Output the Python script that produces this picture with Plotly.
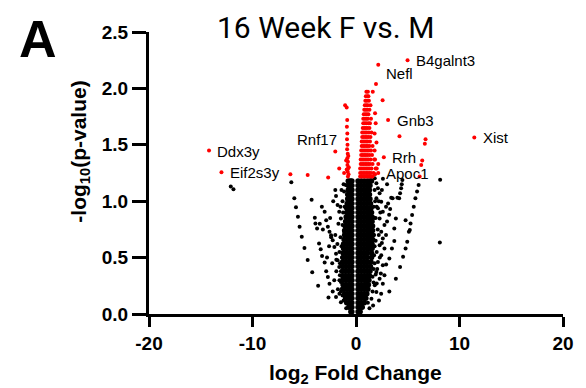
import plotly.graph_objects as go

# ---------------- data ----------------
# dense black core of non-significant genes, listed row by row (y level -> x values)
core_levels = [0.02, 0.06, 0.10, 0.14, 0.18, 0.22, 0.26, 0.30, 0.34, 0.38,
               0.42, 0.46, 0.50, 0.54, 0.58, 0.62, 0.66, 0.70, 0.74, 0.78,
               0.82, 0.86, 0.90, 0.94, 0.98, 1.02, 1.06, 1.10, 1.14, 1.18]
core_rows = [
    [-0.5, -0.4, 0.2, 0.4],
    [-0.7, -0.4, 0.2, 0.45, 0.6],
    [-0.9, -0.65, -0.4, 0.2, 0.5, 0.8],
    [-1.0, -0.7, -0.4, 0.2, 0.5, 0.8, 0.95],
    [-1.1, -0.8, -0.55, -0.4, 0.2, 0.5, 0.8, 1.05],
    [-1.2, -0.9, -0.6, -0.4, 0.2, 0.5, 0.8, 1.15],
    [-1.25, -0.95, -0.65, -0.4, 0.2, 0.5, 0.8, 1.0, 1.2],
    [-1.3, -1.0, -0.7, -0.4, 0.2, 0.5, 0.8, 1.05, 1.25],
    [-1.3, -1.0, -0.7, -0.4, 0.2, 0.5, 0.8, 1.05, 1.3],
    [-1.3, -1.0, -0.7, -0.4, 0.2, 0.5, 0.8, 1.1, 1.35],
    [-1.3, -1.0, -0.7, -0.4, 0.2, 0.5, 0.8, 1.1, 1.4],
    [-1.3, -1.0, -0.7, -0.4, 0.2, 0.5, 0.8, 1.1, 1.45],
    [-1.25, -0.95, -0.65, -0.4, 0.2, 0.5, 0.8, 1.1, 1.5],
    [-1.25, -0.95, -0.65, -0.4, 0.2, 0.5, 0.8, 1.1, 1.5],
    [-1.2, -0.9, -0.6, -0.4, 0.2, 0.5, 0.8, 1.1, 1.35, 1.55],
    [-1.2, -0.9, -0.6, -0.4, 0.2, 0.5, 0.8, 1.1, 1.35, 1.55],
    [-1.15, -0.85, -0.6, -0.4, 0.2, 0.5, 0.8, 1.1, 1.35, 1.6],
    [-1.1, -0.8, -0.55, -0.4, 0.2, 0.5, 0.8, 1.1, 1.35, 1.6],
    [-1.1, -0.8, -0.55, -0.4, 0.2, 0.5, 0.8, 1.1, 1.35, 1.6],
    [-1.05, -0.75, -0.4, 0.2, 0.5, 0.8, 1.1, 1.35, 1.6],
    [-1.0, -0.7, -0.4, 0.2, 0.5, 0.8, 1.1, 1.35, 1.55],
    [-0.95, -0.65, -0.4, 0.2, 0.5, 0.8, 1.1, 1.3, 1.55],
    [-0.9, -0.65, -0.4, 0.2, 0.5, 0.8, 1.1, 1.3, 1.5],
    [-0.9, -0.65, -0.4, 0.2, 0.5, 0.8, 1.1, 1.45],
    [-0.85, -0.6, -0.4, 0.2, 0.5, 0.8, 1.1, 1.4],
    [-0.8, -0.6, -0.4, 0.2, 0.5, 0.8, 1.1, 1.35],
    [-0.8, -0.6, -0.4, 0.2, 0.5, 0.8, 1.05, 1.3],
    [-0.75, -0.55, -0.4, 0.2, 0.5, 0.8, 1.05, 1.3],
    [-0.75, -0.55, -0.4, 0.2, 0.5, 0.8, 1.1, 1.35],
    [-0.75, -0.55, -0.4, 0.2, 0.5, 0.8, 1.1, 1.35, 1.5],
]

# scattered non-significant genes
black_x = [
    -6.25, -5.96, -5.80, -5.61, -5.45, -5.24, -4.98, -4.67, -4.23, -3.66, -2.66, -4.29,
    -12.1, -11.84,
    -3.98, -3.92, -3.76, -3.57, -3.41, -3.28, -3.03, -2.88, -2.72, -2.56, -2.25, -1.93, -1.46,
    -3.03, -2.88, -2.72, -2.56, -2.41, -2.25, -2.09, -1.93, -1.78, -1.62, -1.56, -1.46, -1.37, -1.30,
    -1.93, -1.78, -1.62, -1.46, -1.30, -1.15, -0.99, -1.15, -0.83,
    -2.2, -2.5, -2.0, -1.8, -2.3, -1.9, -2.1, -1.75, -1.6, -1.7, -2.6, -2.8, -3.2, -3.5, -3.3,
    -2.0, -1.5, -1.4, -1.2, -1.6, -1.9, -2.4, -1.5, -1.55, -1.45, -1.35, -1.4, -1.45, -1.25,
    -1.3, -1.1, -1.6, -1.2, -0.95,
    6.05, 5.90, 5.74, 5.58, 5.42, 5.27, 5.11, 4.95, 4.79, 4.55, 4.26, 3.85, 3.22, 2.22,
    8.13, 8.1,
    4.48, 4.42, 4.36, 4.26, 4.17, 3.85, 3.7, 3.54, 4.79, 3.70, 3.47, 3.22, 2.91, 2.75, 2.59, 2.43,
    1.81, 1.97, 2.12, 2.28, 1.97, 2.44, 2.12, 2.59, 2.28, 2.75, 2.44, 2.59, 2.28, 2.75, 2.44,
    2.12, 2.59, 1.97, 2.28, 1.81, 1.97, 1.49, 1.65, 1.8, 2.0, 1.9, 2.1, 1.9, 2.0, 1.8, 1.9,
    1.7, 1.6, 2.2, 2.35, 2.2, 2.3, 2.05, 1.75, 1.7, 1.75, 2.5, 2.6, 3.0, 3.1, 3.3, 3.2, 3.0,
    2.9, 2.5, 2.9, 1.75, 1.8, 1.7, 1.6, 1.85, 2.4, 2.0, 1.3, 1.15, 5.2, 3.4, 4.0,
]
black_y = [
    1.168, 1.026, 0.946, 0.862, 0.773, 0.684, 0.586, 0.479, 0.370, 0.251, 0.147, 1.013,
    1.13, 1.105,
    0.853, 0.803, 0.758, 0.625, 0.575, 0.515, 0.456, 0.378, 0.328, 0.269, 0.200, 0.150, 0.105,
    0.907, 0.832, 0.773, 0.729, 0.699, 0.654, 0.595, 0.535, 0.476, 0.417, 0.343, 0.283, 0.224, 0.165,
    1.046, 0.966, 0.907, 0.847, 0.788, 0.729, 1.144, 1.085, 1.026,
    1.0, 0.85, 0.7, 0.62, 0.45, 0.38, 0.3, 0.22, 0.55, 0.8, 0.6, 0.5, 0.75, 0.8, 0.95,
    1.1, 0.95, 1.1, 1.15, 0.3, 0.48, 0.68, 0.68, 0.45, 0.2, 0.5, 0.6, 0.38, 0.9,
    1.0, 0.95, 0.18, 0.12, 0.05,
    1.144, 1.085, 1.026, 0.951, 0.877, 0.803, 0.729, 0.640, 0.581, 0.507, 0.417, 0.313, 0.200, 0.120,
    1.19, 0.634,
    1.189, 1.150, 1.114, 1.070, 1.026, 0.847, 0.758, 1.026, 0.832, 0.648, 0.581, 0.493, 0.438, 0.343, 0.269, 0.180,
    1.204, 1.160, 1.115, 1.070, 1.026, 0.996, 0.937, 0.907, 0.847, 0.788, 0.729, 0.669, 0.610, 0.580, 0.521,
    0.462, 0.432, 0.372, 0.313, 0.254, 0.194, 0.135, 0.076, 1.1, 0.95, 0.85, 0.75, 0.65, 0.55, 0.45, 0.35,
    0.28, 0.2, 1.0, 0.9, 0.7, 0.5, 0.4, 0.52, 0.95, 0.7, 1.1, 1.2, 1.15, 0.98, 0.93, 0.88, 0.82,
    0.95, 0.63, 0.7, 0.85, 0.6, 0.4, 0.33, 1.0, 0.36, 0.27, 0.05, 0.1, 0.745, 1.03, 1.03,
]

# significant genes (red): right-hand column, listed row by row
redcol_levels = [1.97, 1.93, 1.89, 1.85, 1.81, 1.77, 1.73, 1.69, 1.65, 1.61,
                 1.57, 1.53, 1.49, 1.45, 1.41, 1.37, 1.33, 1.29, 1.25, 1.22]
redcol_rows = [
    [1.0, 1.15],
    [0.95, 1.1, 1.2],
    [0.9, 1.05, 1.25],
    [0.85, 1.0, 1.15, 1.4],
    [0.8, 0.95, 1.1, 1.3],
    [0.75, 0.9, 1.05, 1.2],
    [0.7, 0.85, 1.0, 1.15, 1.45],
    [0.7, 0.85, 1.0, 1.2, 1.35],
    [0.65, 0.8, 0.95, 1.1, 1.3],
    [0.6, 0.75, 0.9, 1.05, 1.25, 1.5],
    [0.6, 0.75, 0.9, 1.05, 1.2, 1.4],
    [0.55, 0.7, 0.85, 1.0, 1.15, 1.35],
    [0.55, 0.7, 0.85, 1.0, 1.15, 1.3, 1.6],
    [0.5, 0.65, 0.8, 0.95, 1.1, 1.25, 1.45],
    [0.5, 0.65, 0.8, 0.95, 1.1, 1.3, 1.55],
    [0.45, 0.6, 0.75, 0.9, 1.05, 1.2, 1.4, 1.75],
    [0.45, 0.6, 0.75, 0.9, 1.05, 1.2, 1.35, 1.6],
    [0.4, 0.55, 0.7, 0.85, 1.0, 1.15, 1.3, 1.5, 1.9],
    [0.4, 0.55, 0.7, 0.85, 1.0, 1.15, 1.3, 1.45, 1.7],
    [0.4, 0.55, 0.7, 0.85, 1.0, 1.15, 1.3, 1.45, 1.6],
]

# other significant genes (red)
red_x = [
    4.98, 2.15, 3.1, 11.43, -14.2, -13.0, 2.69, 2.15,
    1.93, 1.62, 2.57, 1.84, 1.9, 1.8, 4.2, 6.72, 6.65, 6.4, 6.3, 6.15,
    -6.34, -4.67, -2.69, -2.0, -1.62, -1.15,
    1.98, 1.8, 1.84, 2.15, 2.0, 1.84,
    -1.05, -0.9, -0.85, -0.88, -0.84, -0.87, -0.82, -0.86, -0.8, -0.84,
    -0.78, -0.83, -0.76, -0.8, -0.72, -0.78, -0.7, -0.74, -0.9, -0.95,
]
red_y = [
    2.25, 2.21, 1.72, 1.565, 1.45, 1.257, 1.39, 1.25,
    2.04, 1.97, 1.895, 1.78, 1.69, 1.60, 1.575, 1.55, 1.51, 1.36, 1.32, 1.22,
    1.24, 1.233, 1.21, 1.44, 1.29, 1.25,
    1.52, 1.45, 1.37, 1.33, 1.29, 1.24,
    1.85, 1.83, 1.72, 1.66, 1.60, 1.55, 1.50, 1.46, 1.42, 1.38,
    1.35, 1.32, 1.29, 1.26, 1.24, 1.22, 1.30, 1.40, 1.28, 1.36,
]

gene_names = ["B4galnt3", "Nefl", "Gnb3", "Xist", "Ddx3y", "Eif2s3y", "Rnf17", "Rrh", "Apoc1"]

x_ticks = [-20, -10, 0, 10, 20]
y_ticks = [0.0, 0.5, 1.0, 1.5, 2.0, 2.5]

# ---------------- layout helpers ----------------
W, H = 586, 388
ML, MR, MT, MB = 149, 13, 32, 74
PW, PH = W - ML - MR, H - MT - MB


def paper_x(px):
    return (px - ML) / PW


def paper_y(py):
    return (H - MB - py) / PH


# text anchor positions for gene labels (data coords, left edge / vertical middle)
label_pos = [(5.58, 2.25), (2.74, 2.13), (3.78, 1.714), (12.10, 1.563), (-13.59, 1.445),
             (-12.32, 1.253), (-5.93, 1.543), (3.31, 1.389), (2.74, 1.247)]

core_x, core_y = [], []
for yl, row in zip(core_levels, core_rows):
    for xv in row:
        core_x.append(xv)
        core_y.append(yl)

rc_x, rc_y = [], []
for yl, row in zip(redcol_levels, redcol_rows):
    for xv in row:
        rc_x.append(xv)
        rc_y.append(yl)

fig = go.Figure()
fig.add_trace(go.Scatter(x=core_x, y=core_y, mode="markers", cliponaxis=False,
                         marker=dict(color="black", size=5.5, line=dict(width=0)),
                         hoverinfo="skip", showlegend=False))
fig.add_trace(go.Scatter(x=black_x, y=black_y, mode="markers", cliponaxis=False,
                         marker=dict(color="black", size=4, line=dict(width=0)),
                         showlegend=False))
fig.add_trace(go.Scatter(x=rc_x, y=rc_y, mode="markers", cliponaxis=False,
                         marker=dict(color="#ff0000", size=4, line=dict(width=0)),
                         showlegend=False))
fig.add_trace(go.Scatter(x=red_x, y=red_y, mode="markers", cliponaxis=False,
                         marker=dict(color="#ff0000", size=4, line=dict(width=0)),
                         showlegend=False))

annotations = []
for name, (lx, ly) in zip(gene_names, label_pos):
    annotations.append(dict(x=lx, y=ly, xref="x", yref="y", text=name, showarrow=False,
                            xanchor="left", yanchor="middle",
                            font=dict(family="Arial, Liberation Sans", size=15, color="black")))

annotations += [
    dict(x=paper_x(330), y=paper_y(28), xref="paper", yref="paper", text="16 Week F vs. M",
         showarrow=False, xanchor="center", yanchor="middle",
         font=dict(family="Roboto", size=30, color="black")),
    dict(x=paper_x(35), y=paper_y(39), xref="paper", yref="paper", text="<b>A</b>",
         showarrow=False, xanchor="center", yanchor="middle",
         font=dict(family="Arial, Liberation Sans", size=52, color="black")),
    dict(x=paper_x(78), y=paper_y(152), xref="paper", yref="paper",
         text="<b>-log<sub>10</sub>(p-value)</b>", textangle=-90,
         showarrow=False, xanchor="center", yanchor="middle",
         font=dict(family="Arial, Liberation Sans", size=21, color="black")),
    dict(x=paper_x(360.5), y=paper_y(374), xref="paper", yref="paper",
         text="<b>log<sub>2</sub> Fold Change</b>",
         showarrow=False, xanchor="center", yanchor="middle",
         font=dict(family="Arial, Liberation Sans", size=21, color="black")),
]

tickfont = dict(family="Arial, Liberation Sans", size=19, color="black", weight="bold")
fig.update_layout(
    width=W, height=H,
    margin=dict(l=ML, r=MR, t=MT, b=MB, pad=0),
    paper_bgcolor="white", plot_bgcolor="white",
    annotations=annotations,
    xaxis=dict(range=[-20, 20], tickvals=x_ticks, ticktext=[str(v) for v in x_ticks],
               showgrid=False, zeroline=False, showline=True, linecolor="black", linewidth=3,
               ticks="outside", ticklen=10, tickwidth=3, tickcolor="black", tickfont=tickfont),
    yaxis=dict(range=[0, 2.5], tickvals=y_ticks, ticktext=["%.1f" % v for v in y_ticks],
               showgrid=False, zeroline=False, showline=True, linecolor="black", linewidth=3,
               ticks="outside", ticklen=14, tickwidth=3, tickcolor="black", tickfont=tickfont),
)

fig.write_html("out.html")
